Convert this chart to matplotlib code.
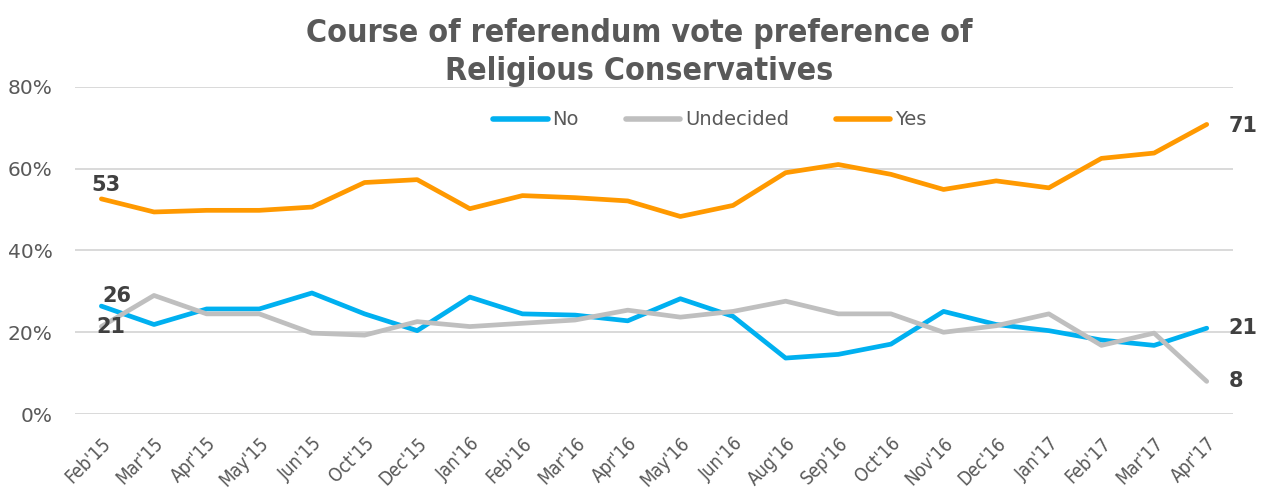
import matplotlib
matplotlib.use("Agg")
import matplotlib.pyplot as plt
from matplotlib import font_manager

months = ["Feb'15", "Mar'15", "Apr'15", "May'15", "Jun'15", "Oct'15", "Dec'15",
          "Jan'16", "Feb'16", "Mar'16", "Apr'16", "May'16", "Jun'16", "Aug'16",
          "Sep'16", "Oct'16", "Nov'16", "Dec'16", "Jan'17", "Feb'17", "Mar'17",
          "Apr'17"]
no_vals = [26.4, 21.9, 25.7, 25.7, 29.6, 24.5, 20.4, 28.6, 24.5, 24.2, 22.8,
           28.2, 23.9, 13.7, 14.6, 17.1, 25.1, 21.9, 20.4, 18.1, 16.8, 21.0]
undecided_vals = [21.4, 29.0, 24.5, 24.5, 19.8, 19.3, 22.6, 21.4, 22.2, 23.0,
                  25.4, 23.7, 25.1, 27.6, 24.5, 24.5, 20.0, 21.6, 24.5, 16.8,
                  19.8, 8.0]
yes_vals = [52.6, 49.4, 49.8, 49.8, 50.6, 56.6, 57.3, 50.2, 53.4, 52.9, 52.1,
            48.3, 51.0, 59.0, 61.0, 58.6, 54.9, 57.0, 55.3, 62.5, 63.8, 70.8]

title_lines = ["Course of referendum vote preference of", "Religious Conservatives"]

c_no = "#00B0F0"
c_und = "#BFBFBF"
c_yes = "#FF9900"
txt = "#595959"
lbl = "#404040"

# pick condensed faces (heading and month labels) if available
cond = [f for f in font_manager.fontManager.ttflist
        if ("Condensed" in f.fname or "Narrow" in f.fname)
        and "Oblique" not in f.fname and "Italic" not in f.fname]
bold_cond = [f for f in cond if "Bold" in f.fname]
reg_cond = [f for f in cond if "Bold" not in f.fname and "Sans" in f.fname
            and "Mono" not in f.fname]
title_font = bold_cond[0].fname if bold_cond else None
tick_font = reg_cond[0].fname if reg_cond else None

plt.rcParams["font.family"] = ["DejaVu Sans"]

fig = plt.figure(figsize=(12.7, 4.93), dpi=100)
ax = fig.add_axes([0.0591, 0.160, 0.9118, 0.664])

x = list(range(len(months)))
ax.plot(x, no_vals, color=c_no, lw=3.4, solid_capstyle="round", solid_joinstyle="round", label="No")
ax.plot(x, undecided_vals, color=c_und, lw=3.4, solid_capstyle="round", solid_joinstyle="round", label="Undecided")
ax.plot(x, yes_vals, color=c_yes, lw=3.4, solid_capstyle="round", solid_joinstyle="round", label="Yes")

ax.set_xlim(-0.5, len(months) - 0.5)
ax.set_ylim(0, 80)
ax.set_yticks([0, 20, 40, 60, 80])
ax.set_yticklabels(["0%", "20%", "40%", "60%", "80%"])
ax.yaxis.grid(True, color="#D9D9D9", lw=1.4)
ax.set_axisbelow(True)
for s in ax.spines.values():
    s.set_visible(False)
ax.tick_params(axis="y", length=0, pad=16, labelsize=14.5, labelcolor=txt)
ax.tick_params(axis="x", length=0, pad=14, labelsize=13.5, labelcolor=txt)
ax.set_xticks(x)
ax.set_xticklabels(months, rotation=45, ha="right", rotation_mode="anchor")
if tick_font:
    for t in ax.get_xticklabels():
        t.set_fontproperties(font_manager.FontProperties(fname=tick_font, size=13.5))

# end-point value labels
def vlabel(xi, yv, text, dx, dy, ha="center"):
    ax.annotate(text, (xi, yv), xytext=(dx, dy), textcoords="offset pixels",
                ha=ha, va="center", fontsize=15, fontweight="bold", color=lbl)

vlabel(0, yes_vals[0], f"{round(yes_vals[0])}", 5, 14)
vlabel(0, no_vals[0], f"{round(no_vals[0])}", 16, 10)
vlabel(0, undecided_vals[0], f"{round(undecided_vals[0])}", 10, 0)
last = len(months) - 1
vlabel(last, yes_vals[-1], f"{round(yes_vals[-1])}", 22, -2, ha="left")
vlabel(last, no_vals[-1], f"{round(no_vals[-1])}", 22, 0, ha="left")
vlabel(last, undecided_vals[-1], f"{round(undecided_vals[-1])}", 22, 0, ha="left")

leg = ax.legend(ncol=3, loc="center", bbox_to_anchor=(0.548, 0.899), frameon=False,
                fontsize=14, handlelength=2.8, handletextpad=0.25, columnspacing=2.4)
for t in leg.get_texts():
    t.set_color(txt)
for h in leg.get_lines():
    h.set_linewidth(4)

title_kw = dict(ha="center", va="center", color=txt, linespacing=1.28)
if title_font:
    fp = font_manager.FontProperties(fname=title_font, size=23)
    fig.text(0.503, 0.893, "\n".join(title_lines), fontproperties=fp, **title_kw)
else:
    fig.text(0.503, 0.893, "\n".join(title_lines), fontsize=22, fontweight="heavy",
             fontstretch="condensed", **title_kw)

fig.savefig("out.png", dpi=100, facecolor="white")
